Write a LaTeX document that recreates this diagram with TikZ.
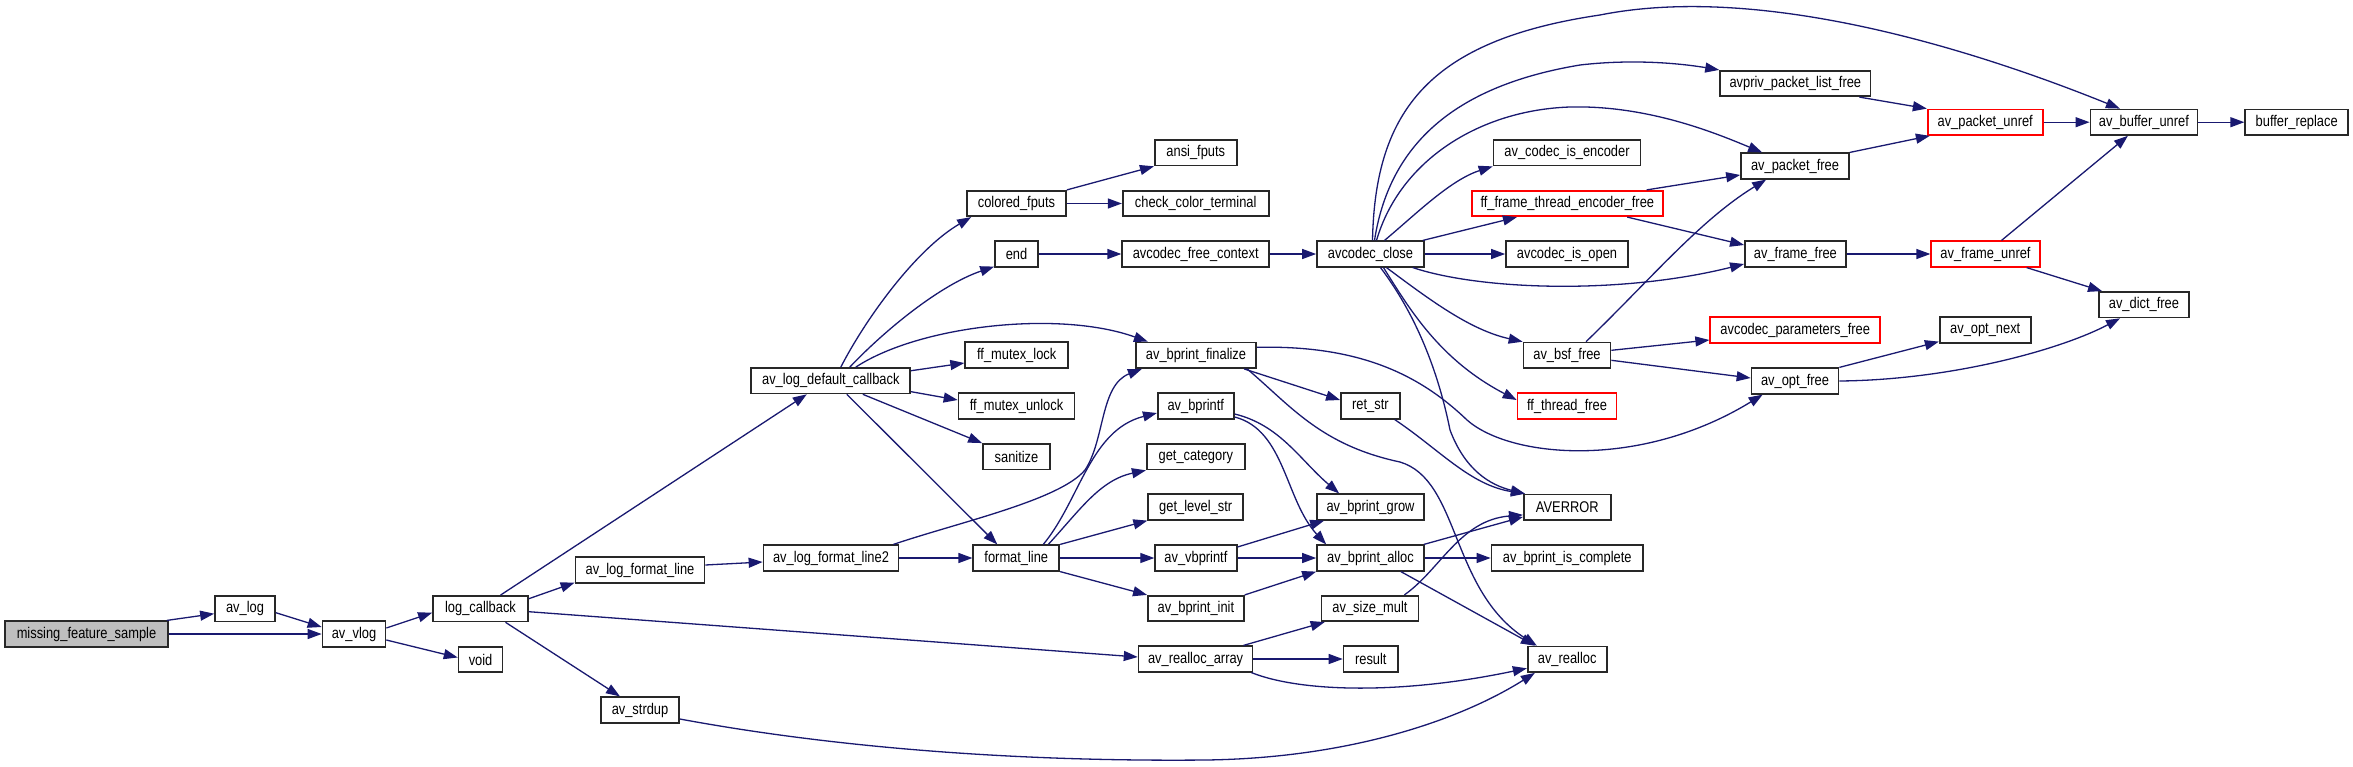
\documentclass[tikz,border=0pt]{standalone}
\usepackage{fontspec}
\newfontfamily\lblfont{Liberation Sans}[FakeStretch=0.83]
\usetikzlibrary{arrows.meta}
\definecolor{edgeblue}{RGB}{25,25,112}
\definecolor{rootgray}{RGB}{191,191,191}
\definecolor{boxline}{RGB}{40,40,40}
\begin{document}
\begin{tikzpicture}[x=1pt,y=-1pt,
 box/.style={draw=boxline, line width=1.7pt, fill=white, minimum height=25.5pt, inner sep=0pt, font=\lblfont\fontsize{15.5}{17}\selectfont},
 redbox/.style={box, draw=red},
 e/.style={draw=edgeblue, line width=1.3pt, -{Triangle[length=14pt,width=10pt]}}]
\useasboundingbox (0,0) rectangle (2353,766);
\fill[white] (0,0) rectangle (2353,766);
% nodes
\node[box, fill=rootgray, minimum width=163pt] (mfs) at (86.5,634) {missing\_feature\_sample};
\node[box, minimum width=60pt] (avlog) at (245,608.7) {av\_log};
\node[box, minimum width=63pt] (avvlog) at (354,634) {av\_vlog};
\node[box, minimum width=95pt] (logcb) at (480.5,608.7) {log\_callback};
\node[box, minimum width=44pt] (void) at (480.6,659.5) {void};
\node[box, minimum width=159pt] (ldc) at (830.8,380.7) {av\_log\_default\_callback};
\node[box, minimum width=129pt] (lfl) at (640,570) {av\_log\_format\_line};
\node[box, minimum width=78pt] (strdup) at (640,710) {av\_strdup};
\node[box, minimum width=135pt] (lfl2) at (831,558) {av\_log\_format\_line2};
\node[box, minimum width=99pt] (colored) at (1016.5,203.5) {colored\_fputs};
\node[box, minimum width=43pt] (end) at (1016.5,254) {end};
\node[box, minimum width=103pt] (mlock) at (1016.7,355) {ff\_mutex\_lock};
\node[box, minimum width=116pt] (munlock) at (1016.5,406) {ff\_mutex\_unlock};
\node[box, minimum width=67pt] (sanitize) at (1016.5,456.7) {sanitize};
\node[box, minimum width=86pt] (fmt) at (1016.3,558) {format\_line};
\node[box, minimum width=82pt] (ansi) at (1195.8,152.7) {ansi\_fputs};
\node[box, minimum width=146pt] (ccterm) at (1195.7,203.5) {check\_color\_terminal};
\node[box, minimum width=147pt] (afc) at (1195.7,254) {avcodec\_free\_context};
\node[box, minimum width=120.5pt] (bfin) at (1196,355.3) {av\_bprint\_finalize};
\node[box, minimum width=76pt] (bprintf) at (1195.8,406) {av\_bprintf};
\node[box, minimum width=98pt] (getcat) at (1195.8,456.7) {get\_category};
\node[box, minimum width=95pt] (getlvl) at (1195.7,507) {get\_level\_str};
\node[box, minimum width=81.5pt] (vbprintf) at (1195.9,558) {av\_vbprintf};
\node[box, minimum width=96pt] (binit) at (1195.9,608.5) {av\_bprint\_init};
\node[box, minimum width=114pt] (rarr) at (1195.6,659) {av\_realloc\_array};
\node[box, minimum width=107pt] (aclose) at (1370.5,254) {avcodec\_close};
\node[box, minimum width=59pt] (retstr) at (1370.4,406) {ret\_str};
\node[box, minimum width=107pt] (bgrow) at (1370.5,507) {av\_bprint\_grow};
\node[box, minimum width=107pt] (balloc) at (1370.5,558) {av\_bprint\_alloc};
\node[box, minimum width=97pt] (sizemult) at (1370,608.5) {av\_size\_mult};
\node[box, minimum width=54.5pt] (result) at (1370.8,659) {result};
\node[box, minimum width=147pt] (isenc) at (1567,152.8) {av\_codec\_is\_encoder};
\node[redbox, minimum width=191pt] (ffte) at (1567.3,203.5) {ff\_frame\_thread\_encoder\_free};
\node[box, minimum width=122pt] (isopen) at (1567,254) {avcodec\_is\_open};
\node[box, minimum width=87pt] (bsf) at (1567,355.3) {av\_bsf\_free};
\node[redbox, minimum width=99pt] (tfree) at (1567,406) {ff\_thread\_free};
\node[box, minimum width=87pt] (averror) at (1567.3,507.3) {AVERROR};
\node[box, minimum width=151.5pt] (iscomplete) at (1567.2,558) {av\_bprint\_is\_complete};
\node[box, minimum width=79pt] (realloc) at (1567.2,659.3) {av\_realloc};
\node[box, minimum width=150.5pt] (plfree) at (1795.3,83.5) {avpriv\_packet\_list\_free};
\node[box, minimum width=108pt] (pfree) at (1795,166) {av\_packet\_free};
\node[box, minimum width=101pt] (ffree) at (1795.4,254) {av\_frame\_free};
\node[redbox, minimum width=170pt] (cpfree) at (1795.2,330) {avcodec\_parameters\_free};
\node[box, minimum width=87pt] (optfree) at (1795,381) {av\_opt\_free};
\node[redbox, minimum width=115pt] (punref) at (1985.2,122.2) {av\_packet\_unref};
\node[redbox, minimum width=108.6pt] (funref) at (1985.5,254) {av\_frame\_unref};
\node[box, minimum width=91pt] (optnext) at (1985.2,330) {av\_opt\_next};
\node[box, minimum width=107pt] (bunref) at (2143.9,122.2) {av\_buffer\_unref};
\node[box, minimum width=90pt] (dictfree) at (2143.9,304.7) {av\_dict\_free};
\node[box, minimum width=103pt] (breplace) at (2296.7,122.2) {buffer\_replace};
% edges
\draw[e] ([xshift=-2pt]mfs.north east) -- ([yshift=-5pt]avlog.west);
\draw[e] (mfs.east) -- (avvlog.west);
\draw[e] ([yshift=-4pt]avlog.east) -- ([yshift=7pt]avvlog.west);
\draw[e] ([yshift=6pt]avvlog.east) -- ([yshift=-4pt]logcb.west);
\draw[e] ([yshift=-6pt]avvlog.east) -- ([yshift=2pt]void.west);
\draw[e] ([xshift=20pt]logcb.north) -- ([xshift=-24pt]ldc.south);
\draw[e] ([yshift=10pt]logcb.east) -- ([yshift=1pt]lfl.south west);
\draw[e] ([yshift=-3pt]logcb.east) -- ([yshift=2pt]rarr.west);
\draw[e] ([xshift=25pt]logcb.south) -- ([xshift=-20pt]strdup.north);
\draw[e] ([yshift=5pt]lfl.east) -- ([yshift=-4pt]lfl2.west);
\draw[e] ([yshift=-9pt]strdup.east) .. controls (820,745) and (1000,762) .. (1206,760) .. controls (1350,758) and (1460,720) .. ([xshift=8pt]realloc.south west);
\draw[e] ([xshift=10pt]ldc.north) .. controls (865,320) and (915,250) .. ([xshift=5pt]colored.south west);
\draw[e] ([xshift=19pt]ldc.north) .. controls (885,330) and (940,285) .. ([yshift=1pt]end.south west);
\draw[e] ([xshift=25pt]ldc.north) .. controls (920,325) and (1060,310) .. ([xshift=13pt]bfin.north west);
\draw[e] ([yshift=10pt]ldc.east) -- ([yshift=-8pt]mlock.west);
\draw[e] ([yshift=-11pt]ldc.east) -- ([yshift=6pt]munlock.west);
\draw[e] ([xshift=32pt]ldc.south) -- (sanitize.north west);
\draw[e] ([xshift=16pt]ldc.south) -- ([xshift=-19pt]fmt.north);
\draw[e] (lfl2.east) -- (fmt.west);
\draw[e] ([xshift=-6pt]lfl2.north east) .. controls (960,522) and (1060,500) .. (1085,470) .. controls (1105,440) and (1100,385) .. ([xshift=7pt]bfin.south west);
\draw[e] (colored.north east) -- (ansi.south west);
\draw[e] (colored.east) -- (ccterm.west);
\draw[e] (end.east) -- (afc.west);
\draw[e] (afc.east) -- (aclose.west);
\draw[e] ([xshift=27pt]fmt.north) .. controls (1080,500) and (1090,430) .. ([yshift=-7pt]bprintf.west);
\draw[e] ([xshift=32pt]fmt.north) .. controls (1080,510) and (1100,480) .. (getcat.south west);
\draw[e] (fmt.north east) -- (getlvl.south west);
\draw[e] (fmt.east) -- (vbprintf.west);
\draw[e] (fmt.south east) -- (binit.north west);
\draw[e] ([xshift=-13pt]bfin.south east) -- ([yshift=6pt]retstr.west);
\draw[e] ([yshift=8pt]bfin.east) .. controls (1360,345) and (1420,375) .. (1467,420) .. controls (1510,458) and (1640,470) .. ([xshift=12pt]optfree.south west);
\draw[e] ([xshift=-10pt]bfin.south east) .. controls (1290,405) and (1320,445) .. (1400,462) .. controls (1460,480) and (1450,590) .. ([xshift=10pt]realloc.north west);
\draw[e] ([yshift=-8pt]bprintf.east) .. controls (1280,425) and (1300,460) .. ([xshift=23pt]bgrow.north west);
\draw[e] ([yshift=-11pt]bprintf.east) .. controls (1285,430) and (1285,500) .. ([xshift=10pt]balloc.north west);
\draw[e] ([yshift=11pt]vbprintf.east) -- ([xshift=8pt]bgrow.south west);
\draw[e] (vbprintf.east) -- (balloc.west);
\draw[e] (binit.north east) -- (balloc.south west);
\draw[e] ([xshift=-1pt]balloc.north east) -- ([yshift=4pt]averror.south west);
\draw[e] (balloc.east) -- (iscomplete.west);
\draw[e] ([xshift=-24pt]balloc.south east) -- ([xshift=8pt]realloc.north west);
\draw[e] ([xshift=-15pt]sizemult.north east) .. controls (1440,570) and (1460,520) .. ([yshift=6pt]averror.south west);
\draw[e] ([xshift=-6pt]retstr.south east) .. controls (1440,450) and (1470,485) .. ([xshift=2pt]averror.north west);
\draw[e] ([xshift=10pt]aclose.south) .. controls (1420,320) and (1440,380) .. (1450,430) .. controls (1465,470) and (1490,485) .. ([xshift=2pt]averror.north west);
\draw[e] ([xshift=13pt]aclose.south) .. controls (1410,310) and (1440,360) .. ([yshift=6pt]tfree.west);
\draw[e] ([xshift=16pt]aclose.south) .. controls (1430,300) and (1470,330) .. (bsf.north west);
\draw[e] ([xshift=-12pt]aclose.south east) .. controls (1480,290) and (1620,295) .. ([yshift=-10pt]ffree.west);
\draw[e] (aclose.east) -- (isopen.west);
\draw[e] ([xshift=-2pt]aclose.north east) -- ([xshift=46pt]ffte.south west);
\draw[e] ([xshift=14pt]aclose.north) .. controls (1415,215) and (1450,180) .. (isenc.south west);
\draw[e] ([xshift=6pt]aclose.north) .. controls (1400,160) and (1480,110) .. (1570,107) .. controls (1650,105) and (1720,135) .. ([xshift=22pt]pfree.north west);
\draw[e] ([xshift=4pt]aclose.north) .. controls (1390,140) and (1460,85) .. (1580,65) .. controls (1640,58) and (1690,65) .. (plfree.north west);
\draw[e] ([xshift=2pt]aclose.north) .. controls (1375,110) and (1430,40) .. (1600,15) .. controls (1750,-15) and (1950,40) .. ([xshift=-24pt]bunref.north);
\draw[e] ([xshift=-17pt]ffte.north east) -- ([yshift=-9pt]pfree.west);
\draw[e] ([xshift=60pt]ffte.south) -- ([yshift=9pt]ffree.west);
\draw[e] ([xshift=19pt]bsf.north) .. controls (1650,280) and (1700,220) .. ([xshift=26pt]pfree.south west);
\draw[e] ([yshift=5pt]bsf.east) -- ([yshift=-10pt]cpfree.west);
\draw[e] ([yshift=-5pt]bsf.east) -- ([yshift=3pt]optfree.west);
\draw[e] ([xshift=-12pt]plfree.south east) -- (punref.north west);
\draw[e] (pfree.north east) -- ([xshift=3pt]punref.south west);
\draw[e] (punref.east) -- (bunref.west);
\draw[e] (bunref.east) -- (breplace.west);
\draw[e] (ffree.east) -- (funref.west);
\draw[e] ([xshift=16pt]funref.north) -- ([xshift=-16pt]bunref.south);
\draw[e] ([xshift=-14pt]funref.south east) -- ([xshift=4pt]dictfree.north west);
\draw[e] (optfree.north east) -- ([yshift=2pt]optnext.south west);
\draw[e] (optfree.east) .. controls (1950,380) and (2060,350) .. ([xshift=22pt]dictfree.south west);
\draw[e] ([xshift=-10pt]rarr.north east) -- ([xshift=4pt]sizemult.south west);
\draw[e] (rarr.east) -- (result.west);
\draw[e] ([xshift=-2pt]rarr.south east) .. controls (1300,692) and (1400,695) .. ([yshift=-9pt]realloc.west);
\end{tikzpicture}
\end{document}
